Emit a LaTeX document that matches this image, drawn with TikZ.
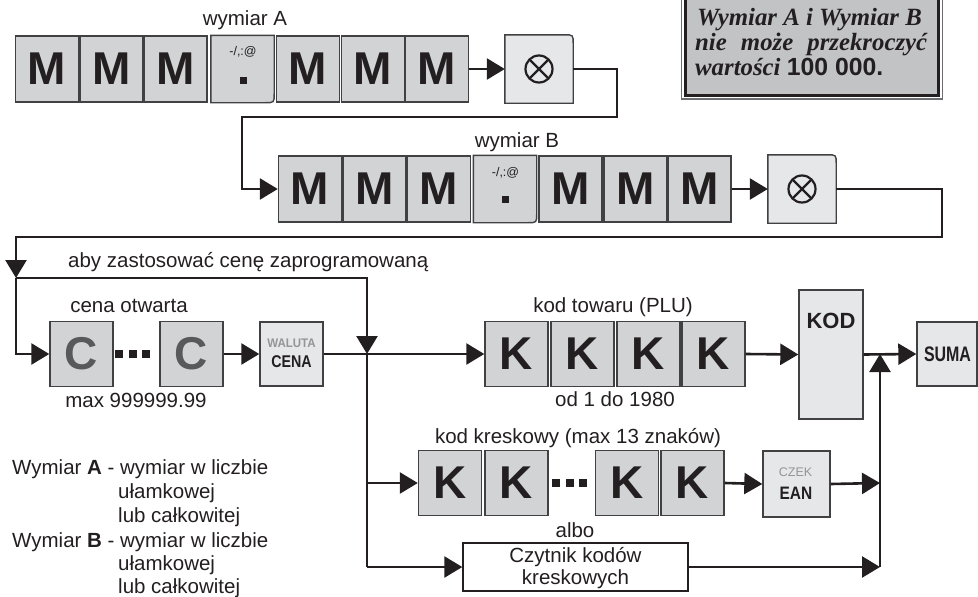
\documentclass[tikz,border=0pt]{standalone}
\usepackage{fontspec}
\setmainfont{Liberation Sans}
\newfontfamily\notefont{Liberation Serif}
\usetikzlibrary{arrows.meta,calc}
\definecolor{ink}{HTML}{231F20}
\definecolor{keyfill}{HTML}{D1D3D4}
\definecolor{lightfill}{HTML}{E6E7E8}
\definecolor{keyline}{HTML}{414042}
\definecolor{notefill}{HTML}{C2C3C5}
\definecolor{cgray}{HTML}{58595B}
\definecolor{lblgray}{HTML}{939598}
\definecolor{frame}{HTML}{6D6E71}
\begin{document}
\begin{tikzpicture}[x=1pt,y=-1pt,
  keyM/.style={rectangle,draw=keyline,line width=1.4pt,fill=keyfill,minimum width=63pt,minimum height=66pt,inner sep=0pt,text=ink,font=\fontsize{46}{46}\selectfont\bfseries},
  keyC/.style={keyM,text=cgray},
  lkey/.style={rectangle,draw=keyline,line width=1.4pt,fill=lightfill,minimum width=64pt,minimum height=64pt,inner sep=0pt},
  bare/.style={rectangle,draw=none,fill=none,minimum width=63pt,minimum height=67pt,inner sep=0pt},
  outl/.style={draw=keyline,line width=1.4pt},
  conn/.style={draw=ink,line width=2.6pt},
  arr/.style={conn,-{Triangle[length=18pt,width=21pt]}},
  lbl/.style={font=\fontsize{20.5}{24}\selectfont,text=ink,inner sep=0pt,anchor=base},
  leg/.style={lbl,anchor=base west},
  small/.style={font=\fontsize{12.5}{12.5}\selectfont,text=ink,inner sep=0pt,anchor=base},
  note/.style={font=\notefont\bfseries\itshape\fontsize{24.8}{25}\selectfont,text=ink,inner sep=0pt,anchor=base west},
  dotsq/.style={fill=ink}
]
\useasboundingbox (0,0) rectangle (978,597);

% ---------- note box ----------
\draw[draw=frame,line width=1.5pt,fill=white] (681.5,-5) rectangle (942.5,99);
\draw[draw=ink,line width=2.6pt,fill=notefill] (685.5,-5) rectangle (938.5,95.5);
\node[note] (n1) at (697,25) {Wymiar A i Wymiar B};
\node[note] (n2) at (695,50) {\makebox[232pt][s]{nie może przekroczyć}};
\node[note] (n3) at (695,75) {wartości {\normalfont\bfseries 100 000.}};

% ---------- row A ----------
\node[lbl] (la) at (245,25) {wymiar A};
\node[keyM] (a1) at (47,69) {M};
\node[keyM] (a2) at (111.5,69) {M};
\node[keyM] (a3) at (175.5,69) {M};
\node[bare] (a4) at (242.5,69) {};
\draw[outl,fill=keyfill] (a4.south west) -- (a4.north west) -- (a4.north east) -- ($(a4.south east)+(0,-9)$) .. controls (a4.south east) .. ($(a4.south east)+(-9,0)$) -- cycle;
\node[small] (a4t) at ($(a4.center)+(0.5,-13)$) {-/,:@};
\fill[dotsq] ($(a4.center)+(-3,7.5)$) rectangle ++(7,7);
\node[keyM] (a5) at (308,69) {M};
\node[keyM] (a6) at (373,69) {M};
\node[keyM] (a7) at (437,69) {M};
\node[bare,minimum width=68pt,minimum height=68pt] (ax) at (539,69) {};
\draw[outl,fill=lightfill] (ax.south west) -- (ax.north west) -- ($(ax.north east)+(-9,0)$) .. controls (ax.north east) .. ($(ax.north east)+(0,9)$) -- (ax.south east) -- cycle;
\draw[ink,line width=2.2pt] (ax.center) circle[radius=13.5pt];
\draw[ink,line width=2.2pt] ($(ax.center)+(-9.5,-9.5)$) -- ($(ax.center)+(9.5,9.5)$);
\draw[ink,line width=2.2pt] ($(ax.center)+(-9.5,9.5)$) -- ($(ax.center)+(9.5,-9.5)$);

% ---------- row B ----------
\node[lbl] (lb) at (517,147) {wymiar B};
\node[keyM] (b1) at (310,189) {M};
\node[keyM] (b2) at (374.5,189) {M};
\node[keyM] (b3) at (439,189) {M};
\node[bare] (b4) at (505,189) {};
\draw[outl,fill=keyfill] (b4.south west) -- (b4.north west) -- (b4.north east) -- ($(b4.south east)+(0,-9)$) .. controls (b4.south east) .. ($(b4.south east)+(-9,0)$) -- cycle;
\node[small] (b4t) at ($(b4.center)+(0.5,-13)$) {-/,:@};
\fill[dotsq] ($(b4.center)+(-3,6.5)$) rectangle ++(7,7);
\node[keyM] (b5) at (570.5,189) {M};
\node[keyM] (b6) at (635.5,189) {M};
\node[keyM] (b7) at (699.5,189) {M};
\node[bare,minimum width=68pt,minimum height=68pt] (bx) at (802,189) {};
\draw[outl,fill=lightfill] (bx.south west) -- (bx.north west) -- ($(bx.north east)+(-9,0)$) .. controls (bx.north east) .. ($(bx.north east)+(0,9)$) -- (bx.south east) -- cycle;
\draw[ink,line width=2.2pt] (bx.center) circle[radius=13.5pt];
\draw[ink,line width=2.2pt] ($(bx.center)+(-9.5,-9.5)$) -- ($(bx.center)+(9.5,9.5)$);
\draw[ink,line width=2.2pt] ($(bx.center)+(-9.5,9.5)$) -- ($(bx.center)+(9.5,-9.5)$);

% ---------- row C ----------
\node[lbl,anchor=base west] (lp) at (68,267) {aby zastosować cenę zaprogramowaną};
\node[lbl] (lco) at (129,312) {cena otwarta};
\node[lbl] (lmax) at (136,407) {max 999999.99};
\node[keyC,minimum height=65pt] (c1) at (81.5,354) {C};
\fill[dotsq] (115,350) rectangle ++(8,8);
\fill[dotsq] (128.5,350) rectangle ++(8,8);
\fill[dotsq] (142,350) rectangle ++(8,8);
\node[keyC,minimum height=65pt] (c2) at (191.5,354) {C};
\node[lkey,minimum width=63pt] (cena) at (291.5,354) {};
\node[font=\fontsize{12.5}{12.5}\selectfont\bfseries,text=lblgray,inner sep=0pt,anchor=base] (cenat) at ($(cena.center)+(0,-7)$) {\scalebox{0.92}[1]{WALUTA}};
\node[font=\fontsize{17}{17}\selectfont\bfseries,text=ink,inner sep=0pt,anchor=base] (cenab) at ($(cena.center)+(0,13)$) {\scalebox{0.84}[1]{CENA}};

\node[lbl] (lplu) at (613,312) {kod towaru (PLU)};
\node[lbl] (lod) at (615,406) {od 1 do 1980};
\node[keyM,minimum height=65pt] (k1) at (516.5,354) {K};
\node[keyM,minimum height=65pt] (k2) at (582.5,354) {K};
\node[keyM,minimum height=65pt] (k3) at (648.5,354) {K};
\node[keyM,minimum height=65pt] (k4) at (713.5,354) {K};
\node[lkey,minimum height=129pt] (kod) at (831,354.5) {};
\node[font=\fontsize{22}{22}\selectfont\bfseries,text=ink,inner sep=0pt,anchor=base] (kodt) at (831,328) {KOD};
\node[lkey,minimum width=60pt] (suma) at (947,354) {};
\node[font=\fontsize{21}{21}\selectfont\bfseries,text=ink,inner sep=0pt,anchor=base] (sumat) at (947.5,361) {\scalebox{0.76}[1]{SUMA}};

% ---------- row D ----------
\node[lbl] (lkk) at (578,443) {kod kreskowy (max 13 znaków)};
\node[keyM,minimum height=65pt] (d1) at (450,483) {K};
\node[keyM,minimum height=65pt] (d2) at (516.5,483) {K};
\fill[dotsq] (552,479) rectangle ++(8,8);
\fill[dotsq] (565.5,479) rectangle ++(8,8);
\fill[dotsq] (579,479) rectangle ++(8,8);
\node[keyM,minimum height=65pt] (d3) at (627,483) {K};
\node[keyM,minimum height=65pt] (d4) at (692.5,483) {K};
\node[lkey,minimum width=67pt,minimum height=66pt] (ean) at (796.5,484) {};
\node[font=\fontsize{12.5}{12.5}\selectfont,text=lblgray,inner sep=0pt,anchor=base] (eant) at (795.5,476) {CZEK};
\node[font=\fontsize{18}{18}\selectfont\bfseries,text=ink,inner sep=0pt,anchor=base] (eanb) at (796,499) {\scalebox{0.86}[1]{EAN}};

\node[lbl] (lalbo) at (575,537) {albo};
\node[rectangle,draw=ink,line width=1.4pt,fill=white,minimum width=225pt,minimum height=48pt,inner sep=0pt] (rd) at (575.5,567) {};
\node[lbl] (rd1) at (575.5,562) {Czytnik kodów};
\node[lbl] (rd2) at (575.5,584) {kreskowych};

% ---------- legend ----------
\node[leg] (g1) at (12,474) {Wymiar \textbf{A} - wymiar w liczbie};
\node[leg] (g2) at (118,498) {ułamkowej};
\node[leg] (g3) at (118,522) {lub całkowitej};
\node[leg] (g4) at (12,547) {Wymiar \textbf{B} - wymiar w liczbie};
\node[leg] (g5) at (118,570) {ułamkowej};
\node[leg] (g6) at (118,593) {lub całkowitej};

% ---------- connectors ----------
\coordinate (t1) at (617,69);
\coordinate (t2) at (617,117);
\coordinate (t3) at (242,117);
\coordinate (t4) at (242,189);
\coordinate (u1) at (942,189);
\coordinate (u2) at (942,237);
\coordinate (u3) at (16,237);
\coordinate (jL) at (16,278);
\coordinate (jC) at (16,354);
\coordinate (jT) at (367,278);
\coordinate (J1) at (367,354);
\coordinate (jD) at (367,483);
\coordinate (jB) at (367,567);
\coordinate (J2) at (880,354);
\coordinate (eR) at (880,483);
\coordinate (rR) at (880,567);

\draw[arr] (a7.east) -- (ax.west);
\draw[arr] (ax.east) -- (t1) -- (t2) -- (t3) -- (t4) -- (b1.west);
\draw[arr] (b7.east) -- (bx.west);
\draw[arr] (bx.east) -- (u1) -- (u2) -- (u3) -- (jL);
\draw[arr] (jL) -- (jC) -- (c1.west);
\draw[arr] (jL) -- (jT) -- (J1);
\draw[arr] (c2.east) -- (cena.west);
\draw[arr] (cena.east) -- (k1.west);
\draw[arr] (k4.east) -- (kod.west);
\draw[arr] (kod.east) -- (suma.west);
\draw[conn] (J1) -- (jB);
\draw[arr] (jD) -- (d1.west);
\draw[arr] (jB) -- (rd.west);
\draw[arr] (d4.east) -- (ean.west);
\draw[arr] (ean.east) -- (eR);
\draw[arr] (rd.east) -- (rR);
\draw[arr] (rR) -- (J2);
\end{tikzpicture}
\end{document}
